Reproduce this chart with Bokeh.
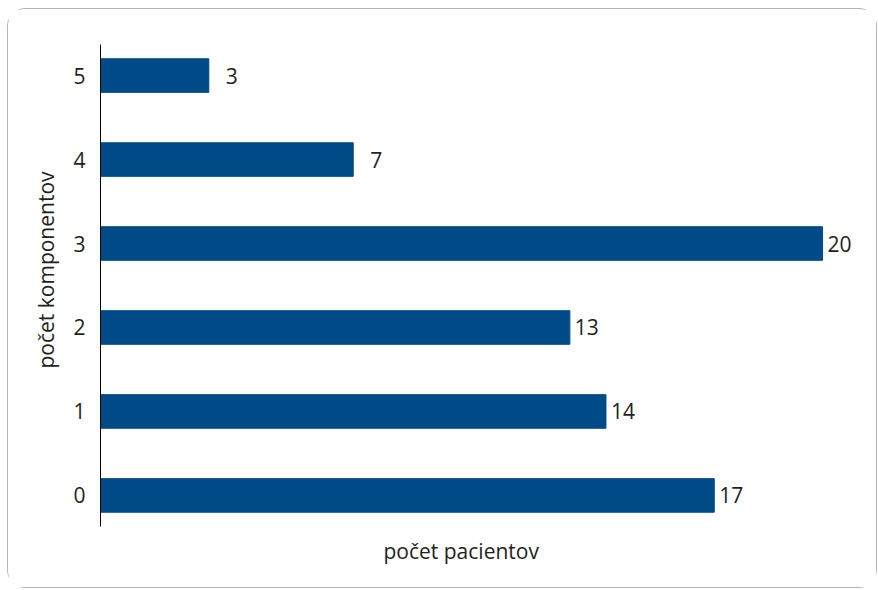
from bokeh.plotting import figure
from bokeh.models import ColumnDataSource, FixedTicker, Range1d, Title
from bokeh.core.properties import value
from bokeh.embed import file_html
from bokeh.resources import INLINE

categories = [0, 1, 2, 3, 4, 5]
counts = [17, 14, 13, 20, 7, 3]
labels = [str(c) for c in counts]
x_title = "počet pacientov"
y_title = "počet komponentov"

FONT = "Open Sans"
FS = "21px"
TEXT_COLOR = "#231f20"
BAR_COLOR = "#004a87"

src = ColumnDataSource(dict(y=categories, right=counts, label=labels))

p = figure(width=870, height=580, output_backend="svg", toolbar_location=None,
           x_range=Range1d(0, 21.05), y_range=Range1d(-0.37, 5.37),
           min_border_left=92, min_border_right=18, min_border_top=35, min_border_bottom=63)
p.styles = {"border": "1.5px solid #b4b4b4", "border-radius": "18px",
            "margin-left": "7px", "margin-top": "8px"}

p.hbar(y="y", right="right", left=0, height=0.4, source=src, color=BAR_COLOR)
p.text(x="right", y="y", text="label", source=src, text_align="right", text_baseline="middle",
       x_offset=29, text_font=value(FONT), text_font_size=FS, text_color=TEXT_COLOR)

p.xgrid.visible = False
p.ygrid.visible = False
p.outline_line_color = None

p.yaxis.ticker = FixedTicker(ticks=categories)
p.yaxis.axis_line_color = "#000000"
p.yaxis.axis_line_width = 1
p.yaxis.major_tick_line_color = None
p.yaxis.minor_tick_line_color = None
p.yaxis.major_label_standoff = 9
p.yaxis.major_label_text_font = FONT
p.yaxis.major_label_text_font_size = FS
p.yaxis.major_label_text_color = TEXT_COLOR

p.xaxis.ticker = FixedTicker(ticks=[])
p.xaxis.axis_line_color = None
p.xaxis.major_tick_line_color = None
p.xaxis.minor_tick_line_color = None

p.add_layout(Title(text=x_title, align="left", offset=283, standoff=16,
                   text_font=FONT, text_font_size=FS, text_font_style="normal",
                   text_color=TEXT_COLOR), "below")
p.add_layout(Title(text=y_title, align="left", offset=158, standoff=21,
                   text_font=FONT, text_font_size=FS, text_font_style="normal",
                   text_color=TEXT_COLOR), "left")

open("out.html", "w").write(file_html(p, INLINE))
